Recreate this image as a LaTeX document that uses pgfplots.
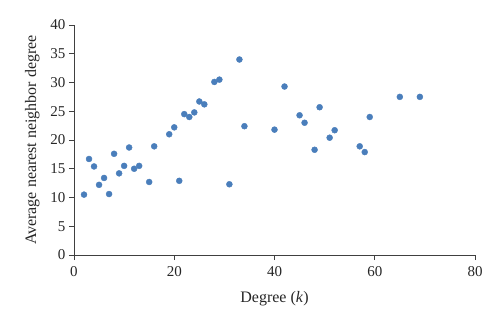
\documentclass[border=0pt]{standalone}
\usepackage{fontspec}
\setmainfont{Liberation Serif}
\usepackage{pgfplots}
\pgfplotsset{compat=1.18}
\definecolor{ptblue}{HTML}{4A7EBB}
\definecolor{axgray}{HTML}{404040}
\begin{document}
\begin{tikzpicture}
\begin{axis}[
  name=ax,
  scale only axis,
  width=401bp, height=230bp,
  xmin=0, xmax=80, ymin=0, ymax=40,
  xtick={0,20,...,80}, ytick={0,5,...,40},
  axis x line*=bottom, axis y line*=left,
  axis line style={axgray, line width=0.8pt, -},
  tick style={axgray, line width=0.8pt},
  tick align=outside, major tick length=5bp,
  /pgf/number format/assume math mode=true,
  ticklabel style={font=\fontsize{15bp}{17bp}\selectfont, text=black!85},
  xticklabel style={yshift=-3bp},
  label style={font=\fontsize{16bp}{19bp}\selectfont, text=black!85},
  xlabel={Degree (\textit{k})},
  ylabel={Average nearest neighbor degree},
  ylabel style={yshift=4bp},
  xlabel style={yshift=-8bp},
]
\addplot[only marks, mark=*, mark size=3bp, mark options={fill=ptblue, draw=ptblue}] coordinates {
(2,10.5) (3,16.7) (4,15.4) (5,12.2) (6,13.4) (7,10.6) (8,17.6) (9,14.2) (10,15.5)
(11,18.7) (12,15.0) (13,15.5) (15,12.7) (16,18.9) (19,21.0) (20,22.2) (21,12.9)
(22,24.5) (23,24.0) (24,24.8) (25,26.7) (26,26.2) (28,30.1) (29,30.5) (31,12.3)
(33,34.0) (34,22.4) (40,21.8) (42,29.3) (45,24.3) (46,23.0) (48,18.3) (49,25.7)
(51,20.4) (52,21.7) (57,18.9) (58,17.9) (59,24.0) (65,27.5) (69,27.5)
};
\end{axis}
\pgfresetboundingbox
\path[use as bounding box] ([xshift=-74bp,yshift=-70bp]ax.south west) rectangle ([xshift=25bp,yshift=25bp]ax.north east);
\end{tikzpicture}
\end{document}
